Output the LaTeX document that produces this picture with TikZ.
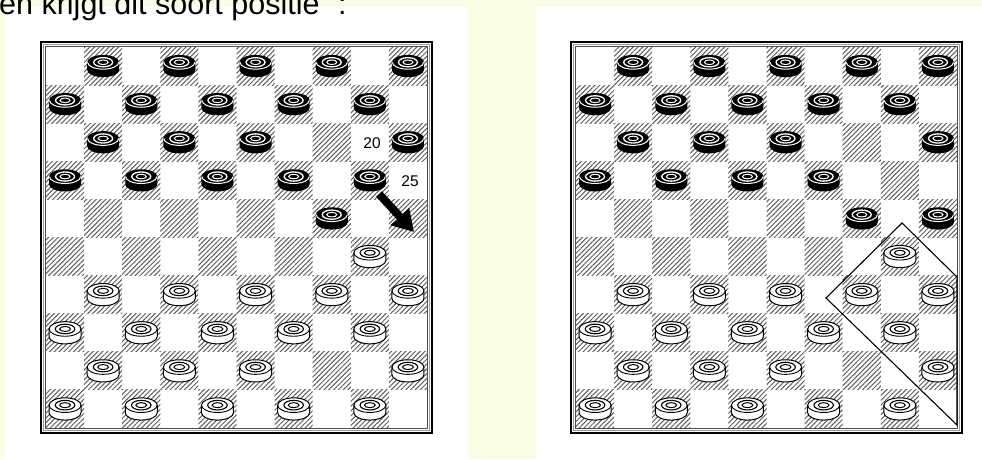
\documentclass[tikz,border=0pt]{standalone}
\usepackage{fontspec}
\setmainfont{Liberation Sans}
\usetikzlibrary{arrows.meta,patterns.meta}
\definecolor{paper}{RGB}{250,253,228}
\definecolor{hatch}{RGB}{95,95,95}

% a draughts piece on column #1, row #2 of the current board
\newcommand{\blackman}[2]{%
  \begin{scope}[shift={({(#1-0.5)*38.1},{(#2-0.5)*38.1})}]
    \fill[black] (-16,-3.8) -- (-16,3.8) arc[start angle=180,end angle=0,x radius=16,y radius=7.3]
      -- (16,-3.8) arc[start angle=0,end angle=-180,x radius=16,y radius=7.3] -- cycle;
    \draw[white, line width=1pt] (-15.6,-3.8) arc[start angle=180,end angle=0,x radius=15.6,y radius=6.9];
    \draw[white, line width=1.3pt] (0,-3.8) ellipse[x radius=9.5,y radius=4.6];
    \draw[white, line width=1pt] (0,-3.8) ellipse[x radius=5,y radius=2.3];
  \end{scope}}
\newcommand{\whiteman}[2]{%
  \begin{scope}[shift={({(#1-0.5)*38.1},{(#2-0.5)*38.1})}]
    \filldraw[fill=white, draw=black, line width=1pt] (-16,-3.8) -- (-16,3.8)
      arc[start angle=180,end angle=0,x radius=16,y radius=7.3]
      -- (16,-3.8) arc[start angle=0,end angle=-180,x radius=16,y radius=7.3] -- cycle;
    \draw[line width=0.9pt] (-16,-3.8) arc[start angle=180,end angle=0,x radius=16,y radius=7.3];
    \draw[line width=1.1pt] (0,-3.8) ellipse[x radius=9.8,y radius=4.8];
    \draw[line width=1pt] (0,-3.8) ellipse[x radius=5.4,y radius=2.5];
  \end{scope}}
% squares and double frame of one board
\newcommand{\drawboard}{%
  \foreach \c in {1,...,10}
    \foreach \r in {1,...,10}
      {\pgfmathparse{int(mod(\c+\r,2))}
       \ifnum\pgfmathresult=1
         \fill[darksq] ({(\c-1)*38.1},{(\r-1)*38.1}) rectangle ++(38.1,38.1);
       \fi}
  \draw[black!70, line width=0.6pt] (-0.5,-0.5) rectangle (381.5,381.5);
  \draw[gray!80, line width=1pt] (-2.8,-2.8) rectangle (383.8,383.8);
  \draw[black, line width=1.8pt] (-5,-5) rectangle (386,386);}

\begin{document}
\begin{tikzpicture}[
    x=1pt, y=-1pt,
    darksq/.style={pattern={Lines[angle=45,distance=3.4pt,line width=1pt]},
                   pattern color=hatch},
    numlabel/.style={font=\fontsize{15.5}{18}\selectfont, inner sep=0pt},
    move/.style={-{Triangle[length=21pt,width=24pt]}, line width=8pt},
    region/.style={draw, line width=1.1pt, line join=miter},
  ]
  \useasboundingbox (0,0) rectangle (982,459);
  \fill[paper] (0,0) rectangle (982,459);
  \fill[white] (5,7) rectangle (468,459);
  \fill[white] (536,7) rectangle (982,459);

  \node[anchor=base west, inner sep=0pt, font=\fontsize{30.5}{36}\selectfont]
    (intro) at (-1,14) {en krijgt dit soort positie" :};

  % left board: the move 20-25
  \begin{scope}[shift={(46,47)}]
    \drawboard
    \foreach \c/\r in {2/1,4/1,6/1,8/1,10/1, 1/2,3/2,5/2,7/2,9/2,
                       2/3,4/3,6/3,10/3, 1/4,3/4,5/4,7/4,9/4, 8/5}
      \blackman{\c}{\r};
    \foreach \c/\r in {9/6, 2/7,4/7,6/7,8/7,10/7, 1/8,3/8,5/8,7/8,9/8,
                       2/9,4/9,6/9,10/9, 1/10,3/10,5/10,7/10,9/10}
      \whiteman{\c}{\r};
  \end{scope}
  \node[numlabel] (sq20) at (372,143) {20};
  \node[numlabel] (sq25) at (410,181) {25};
  \coordinate (from20) at (379,194);
  \coordinate (to25) at (414,232);
  \draw[move] (from20) -- (to25);

  % right board: position after the move
  \begin{scope}[shift={(576,47)}]
    \drawboard
    \foreach \c/\r in {2/1,4/1,6/1,8/1,10/1, 1/2,3/2,5/2,7/2,9/2,
                       2/3,4/3,6/3,10/3, 1/4,3/4,5/4,7/4, 8/5,10/5}
      \blackman{\c}{\r};
    \foreach \c/\r in {9/6, 2/7,4/7,6/7,8/7,10/7, 1/8,3/8,5/8,7/8,9/8,
                       2/9,4/9,6/9,10/9, 1/10,3/10,5/10,7/10,9/10}
      \whiteman{\c}{\r};
  \end{scope}
  \coordinate (wleft) at (826,298);
  \coordinate (wtop) at (902,223);
  \coordinate (wright) at (957,277);
  \coordinate (wcorner) at (957,425);
  \draw[region] (wleft) -- (wtop) -- (wright) -- (wcorner) -- cycle;
\end{tikzpicture}
\end{document}
